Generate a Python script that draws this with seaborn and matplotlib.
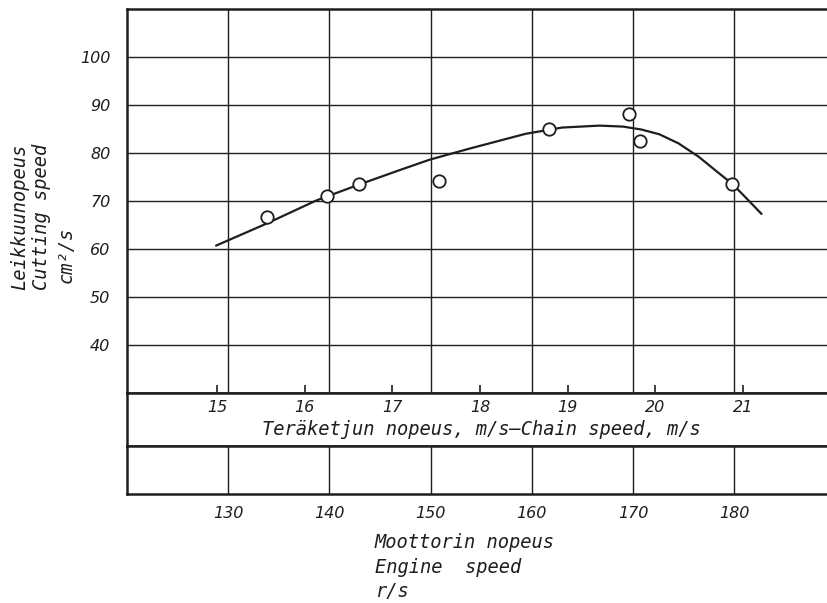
import numpy as np
import pandas as pd
import matplotlib
matplotlib.use("Agg")
import matplotlib.pyplot as plt
import seaborn as sns

# measured points: engine speed (r/s) vs cutting speed (cm2/s)
engine_speed = [133.8, 139.8, 142.9, 150.8, 161.7, 169.6, 170.7, 179.8]
cutting_speed = [66.7, 71.1, 73.6, 74.1, 84.9, 88.1, 82.6, 73.6]

# hand-drawn fitted curve
curve_engine = [128.8, 133.8, 138.7, 142.9, 146.9, 149.9, 154.0, 159.4,
                163.0, 166.7, 169.0, 170.8, 172.6, 174.5, 176.5, 178.6,
                179.8, 181.1, 182.7]
curve_cutting = [60.7, 65.3, 70.1, 73.4, 76.4, 78.6, 81.0, 84.0,
                 85.3, 85.7, 85.5, 84.9, 83.9, 82.0, 79.2, 75.6,
                 73.6, 70.8, 67.3]

y_ticks = [40, 50, 60, 70, 80, 90, 100]
engine_ticks = [130, 140, 150, 160, 170, 180]
chain_ticks = [15, 16, 17, 18, 19, 20, 21]

sns.set_theme(style="white")
plt.rcParams["font.family"] = ["DejaVu Sans Mono", "DejaVu Sans"]
plt.rcParams["font.style"] = "italic"

INK = "#1e1e1e"
TICK_FS = 11.5
LABEL_FS = 13.5
TICK_FONT = ["DejaVu Sans"]

fig = plt.figure(figsize=(8.28, 6.03), dpi=100)
ax = fig.add_axes([0.1534, 0.3483, 0.8466, 0.6368])
band1 = fig.add_axes([0.1534, 0.2604, 0.8466, 0.0879])
band2 = fig.add_axes([0.1534, 0.1808, 0.8466, 0.0796])

xlim = (120, 189.27)

# main plot
df_pts = pd.DataFrame({"engine": engine_speed, "cutting": cutting_speed})
df_fit = pd.DataFrame({"engine": curve_engine, "cutting": curve_cutting})
sns.lineplot(data=df_fit, x="engine", y="cutting", ax=ax, color=INK,
             linewidth=1.6, sort=False, zorder=3)
sns.scatterplot(data=df_pts, x="engine", y="cutting", ax=ax, s=80,
                facecolor="white", edgecolor=INK, linewidth=1.3, zorder=4)
ax.set_xlim(*xlim)
ax.set_ylim(30, 110)
ax.set_xticks(engine_ticks)
ax.set_yticks(y_ticks)
ax.set_yticklabels([str(v) for v in y_ticks], fontsize=TICK_FS, color=INK,
                   family=TICK_FONT)
ax.tick_params(axis="y", length=0, pad=12)
ax.tick_params(axis="x", length=0, labelbottom=False)
ax.grid(True, color=INK, linewidth=1.0)
ax.set_xlabel("")
ax.set_ylabel("")

# chain speed band
band1.set_xlim(13.973, 21.969)
band1.set_ylim(0, 1)
band1.set_yticks([])
band1.set_xticks(chain_ticks)
band1.set_xticklabels([str(v) for v in chain_ticks], fontsize=TICK_FS,
                      color=INK, family=TICK_FONT)
band1.tick_params(axis="x", top=True, bottom=False, labeltop=True,
                  labelbottom=False, direction="out", length=6, width=1.2,
                  color=INK, pad=-22)
band1.text(0.506, 0.32, "Teräketjun nopeus, m/s–Chain speed, m/s",
           transform=band1.transAxes, ha="center", va="center",
           fontsize=LABEL_FS, color=INK)

# engine speed band
band2.set_xlim(*xlim)
band2.set_ylim(0, 1)
band2.set_yticks([])
band2.set_xticks(engine_ticks)
band2.set_xticklabels([str(v) for v in engine_ticks], fontsize=TICK_FS,
                      color=INK, family=TICK_FONT)
band2.tick_params(axis="x", length=0, pad=9)
band2.grid(True, axis="x", color=INK, linewidth=1.0)

for a in (ax, band1, band2):
    a.set_facecolor("white")
    for side in ("left", "top", "bottom"):
        a.spines[side].set_visible(True)
        a.spines[side].set_color(INK)
        a.spines[side].set_linewidth(1.8)
    a.spines["right"].set_visible(False)

# axis titles
fig.text(20 / 828, 1 - 290 / 603, "Leikkuunopeus", rotation=90,
         ha="center", va="bottom", fontsize=LABEL_FS, color=INK)
fig.text(42 / 828, 1 - 290 / 603, "Cutting speed", rotation=90,
         ha="center", va="bottom", fontsize=LABEL_FS, color=INK)
fig.text(66 / 828, 1 - 283 / 603, "cm²/s", rotation=90,
         ha="center", va="bottom", fontsize=LABEL_FS, color=INK)
fig.text(375 / 828, 1 - 533 / 603, "Moottorin nopeus\nEngine  speed\nr/s",
         ha="left", va="top", fontsize=LABEL_FS, color=INK, linespacing=1.38)

fig.savefig("out.png", dpi=100, facecolor="white")
